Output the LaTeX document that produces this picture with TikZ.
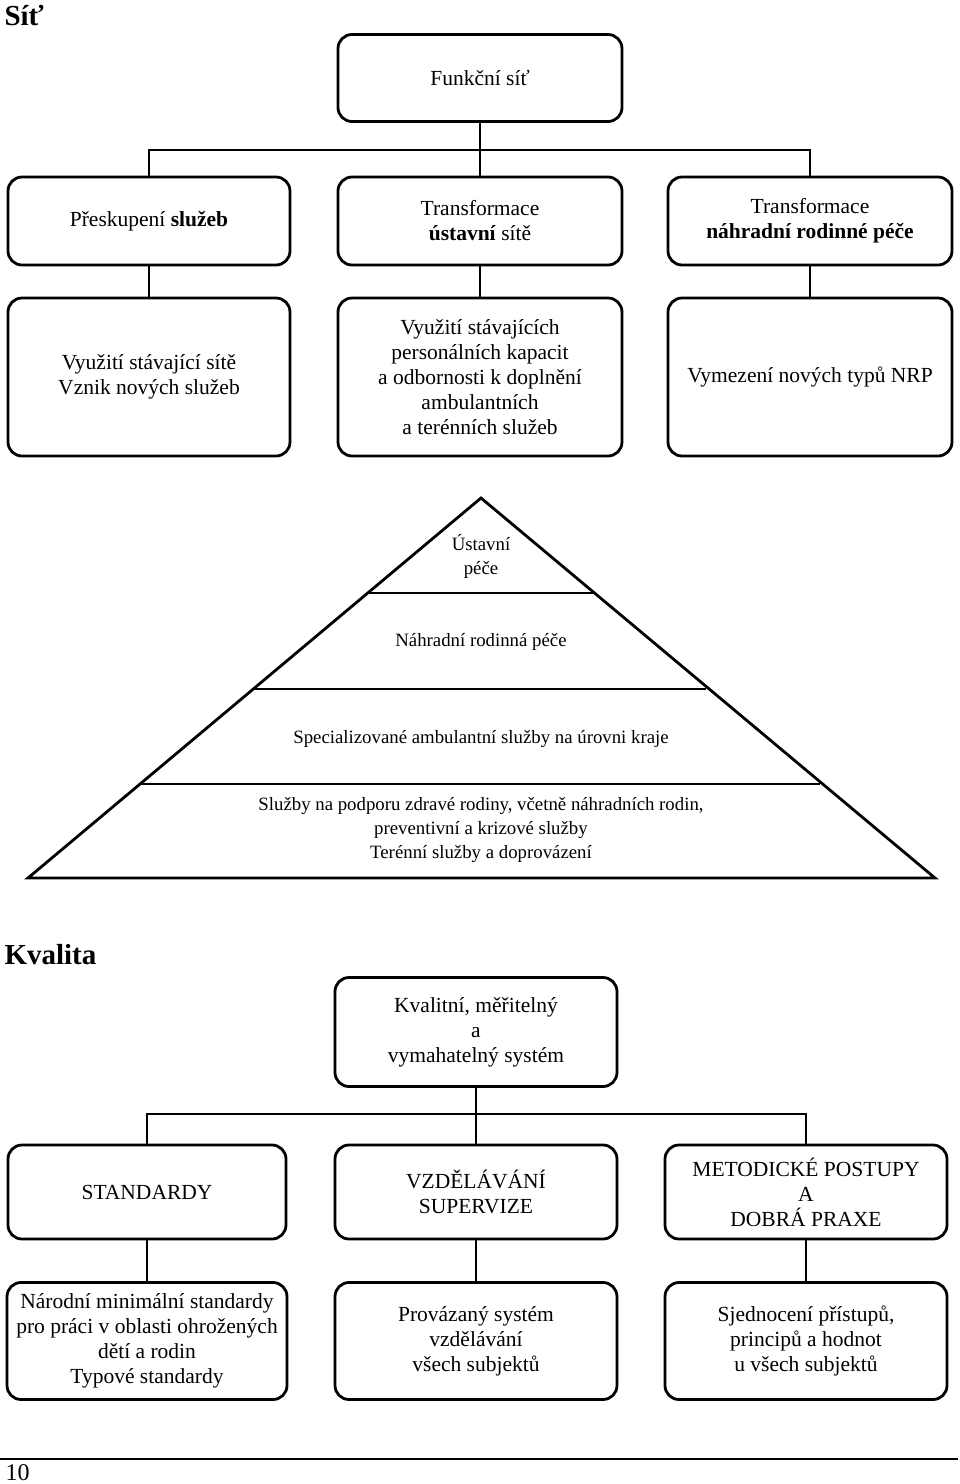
\documentclass[tikz,border=0pt]{standalone}
\usepackage{fontspec}
\setmainfont{Liberation Serif}
\begin{document}
\begin{tikzpicture}[x=1pt,y=-1pt,
  box/.style={draw,line width=2.8pt,rounded corners=14pt,align=center,inner sep=2pt,font=\fontsize{21.5}{25}\selectfont},
  conn/.style={line width=2.8pt},
  pyr/.style={line width=2.8pt},
  ptext/.style={align=center,font=\fontsize{18.8}{24}\selectfont},
  ttl/.style={anchor=west,font=\fontsize{29}{32}\selectfont\bfseries}]
\useasboundingbox (0,0) rectangle (960,1484);
% ---- Síť ----
\node[ttl] (t1) at (1,16) {Síť};
\node[box,minimum width=284pt,minimum height=87pt] (f) at (480,78) {Funkční síť};
\node[box,minimum width=282pt,minimum height=88pt] (a1) at (149,221) {Přeskupení \textbf{služeb}};
\node[box,minimum width=284pt,minimum height=88pt] (a2) at (480,221) {Transformace\\\textbf{ústavní} sítě};
\node[box,minimum width=284pt,minimum height=88pt] (a3) at (810,221) {Transformace\\\textbf{náhradní rodinné péče}};
\node[box,minimum width=282pt,minimum height=158pt] (b1) at (149,377) {Využití stávající sítě\\Vznik nových služeb};
\node[box,minimum width=284pt,minimum height=158pt] (b2) at (480,377) {Využití stávajících\\personálních kapacit\\a odbornosti k doplnění\\ambulantních\\a terénních služeb};
\node[box,minimum width=284pt,minimum height=158pt] (b3) at (810,377) {Vymezení nových typů NRP};
\coordinate (bar1) at (480,150);
\draw[conn] (f.south) -- (bar1);
\draw[conn] (a1.north) |- (bar1) -| (a3.north);
\draw[conn] (bar1) -- (a2.north);
\draw[conn] (a1.south) -- (b1.north);
\draw[conn] (a2.south) -- (b2.north);
\draw[conn] (a3.south) -- (b3.north);
% ---- pyramid ----
\draw[pyr,line join=miter] (481,498) -- (935,878) -- (28,878) -- cycle;
\draw[pyr] (368,593) -- (594,593);
\draw[pyr] (255,689) -- (706,689);
\draw[pyr] (141,784) -- (820,784);
\node[ptext] (p1) at (481,556) {Ústavní\\péče};
\node[ptext] (p2) at (481,642) {Náhradní rodinná péče};
\node[ptext] (p3) at (481,739) {Specializované ambulantní služby na úrovni kraje};
\node[ptext] (p4) at (481,830) {Služby na podporu zdravé rodiny, včetně náhradních rodin,\\preventivní a krizové služby\\Terénní služby a doprovázení};
% ---- Kvalita ----
\node[ttl] (t2) at (1,955) {Kvalita};
\node[box,minimum width=282pt,minimum height=109pt] (k) at (476,1032) {Kvalitní, měřitelný\\a\\vymahatelný systém};
\node[box,minimum width=278pt,minimum height=94pt] (c1) at (147,1192) {STANDARDY};
\node[box,minimum width=282pt,minimum height=94pt] (c2) at (476,1192) {VZDĚLÁVÁNÍ\\SUPERVIZE};
\node[box,minimum width=282pt,minimum height=94pt] (c3) at (806,1192) {METODICKÉ POSTUPY\\A\\DOBRÁ PRAXE};
\node[box,minimum width=280pt,minimum height=117pt] (d1) at (147,1341) {Národní minimální standardy\\pro práci v oblasti ohrožených\\dětí a rodin\\Typové standardy};
\node[box,minimum width=282pt,minimum height=117pt] (d2) at (476,1341) {Provázaný systém\\vzdělávání\\všech subjektů};
\node[box,minimum width=282pt,minimum height=117pt] (d3) at (806,1341) {Sjednocení přístupů,\\principů a hodnot\\u všech subjektů};
\coordinate (bar2) at (476,1114);
\draw[conn] (k.south) -- (bar2);
\draw[conn] (c1.north) |- (bar2) -| (c3.north);
\draw[conn] (bar2) -- (c2.north);
\draw[conn] (c1.south) -- (d1.north);
\draw[conn] (c2.south) -- (d2.north);
\draw[conn] (c3.south) -- (d3.north);
% ---- footer ----
\coordinate (fl) at (0,1459);
\coordinate (fr) at (958,1459);
\draw[line width=1.5pt] (fl) -- (fr);
\node[anchor=west,font=\fontsize{24}{26}\selectfont] (pg) at (2,1473) {10};
\end{tikzpicture}
\end{document}
